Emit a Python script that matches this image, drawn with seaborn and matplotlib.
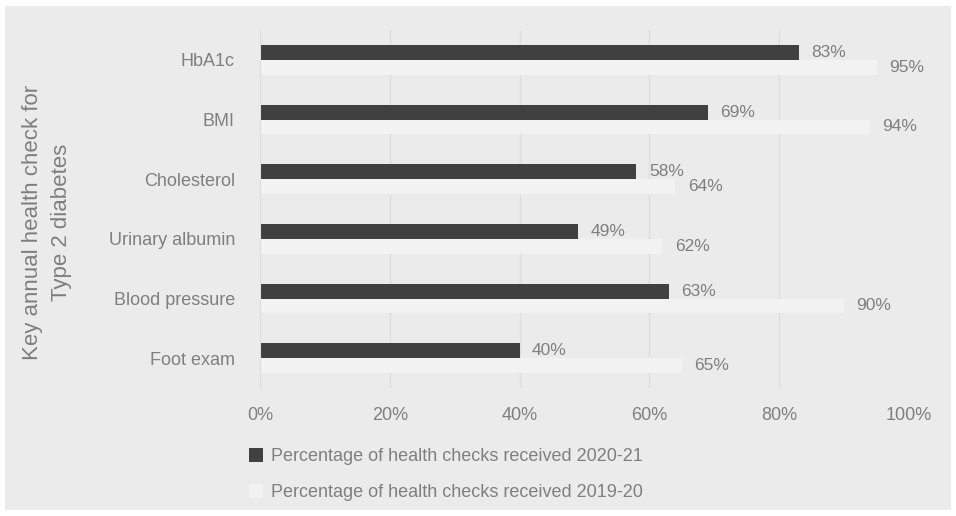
import pandas as pd
import matplotlib.pyplot as plt
import matplotlib.patches as mpatches
import seaborn as sns

# chart values
checks = ['HbA1c', 'BMI', 'Cholesterol', 'Urinary albumin', 'Blood pressure', 'Foot exam']
pct_2020_21 = [83, 69, 58, 49, 63, 40]
pct_2019_20 = [95, 94, 64, 62, 90, 65]
series = ['Percentage of health checks received 2020-21',
          'Percentage of health checks received 2019-20']
xticks = [0, 20, 40, 60, 80, 100]

# long form table for seaborn
df = pd.DataFrame({
    'check': checks * 2,
    'pct': pct_2020_21 + pct_2019_20,
    'series': [series[0]] * len(checks) + [series[1]] * len(checks),
})

sns.set_style('white')
plt.rcParams['font.family'] = ['Liberation Sans', 'DejaVu Sans']

txt = '#7f7f7f'
bg = '#ebebeb'
colors = ['#404040', '#f2f2f2']

fig = plt.figure(figsize=(9.56, 5.16), dpi=100)
fig.patch.set_facecolor('white')
# grey panel behind everything
fig.patches.append(mpatches.Rectangle((5 / 956, 6 / 516), 946 / 956, 504 / 516,
                                      transform=fig.transFigure, facecolor=bg,
                                      edgecolor='none', zorder=-10))

ax = fig.add_axes([260 / 956, 1 - 388 / 516, 649 / 956, 358 / 516])
ax.set_facecolor(bg)

sns.barplot(data=df, y='check', x='pct', hue='series', order=checks,
            hue_order=series, palette=colors, orient='h', width=0.5,
            gap=0, legend=False, ax=ax, saturation=1, linewidth=0)

for i, cont in enumerate(ax.containers):
    ax.bar_label(cont, labels=[f'{v:.0f}%' for v in cont.datavalues],
                 padding=9, color=txt, fontsize=12.5)

ax.set_xlim(0, 100)
ax.set_ylim(5.5, -0.5)
ax.set_xticks(xticks)
ax.set_xticklabels([f'{t}%' for t in xticks])
ax.grid(axis='x', color='#dedede', linewidth=1)
ax.set_axisbelow(True)
for s in ['top', 'right', 'bottom']:
    ax.spines[s].set_visible(False)
ax.spines['left'].set_color('#dedede')
ax.tick_params(axis='both', length=0, labelsize=13, labelcolor=txt)
ax.tick_params(axis='x', pad=14)
ax.tick_params(axis='y', pad=18)
ax.set_xlabel('')
ax.set_ylabel('')

fig.text(47 / 956, 1 - 222 / 516, 'Key annual health check for\nType 2 diabetes',
         rotation=90, ha='center', va='center', multialignment='center',
         fontsize=16, color=txt, linespacing=1.55)

handles = [mpatches.Patch(facecolor=c, edgecolor='none') for c in colors]
leg = fig.legend(handles, series, loc='upper left',
                 bbox_to_anchor=(233 / 956, 1 - 432 / 516), frameon=False,
                 fontsize=13, labelcolor=txt, handlelength=0.75,
                 handleheight=0.75, handletextpad=0.45, labelspacing=1.05)

fig.savefig('out.png', dpi=100, facecolor='white')
